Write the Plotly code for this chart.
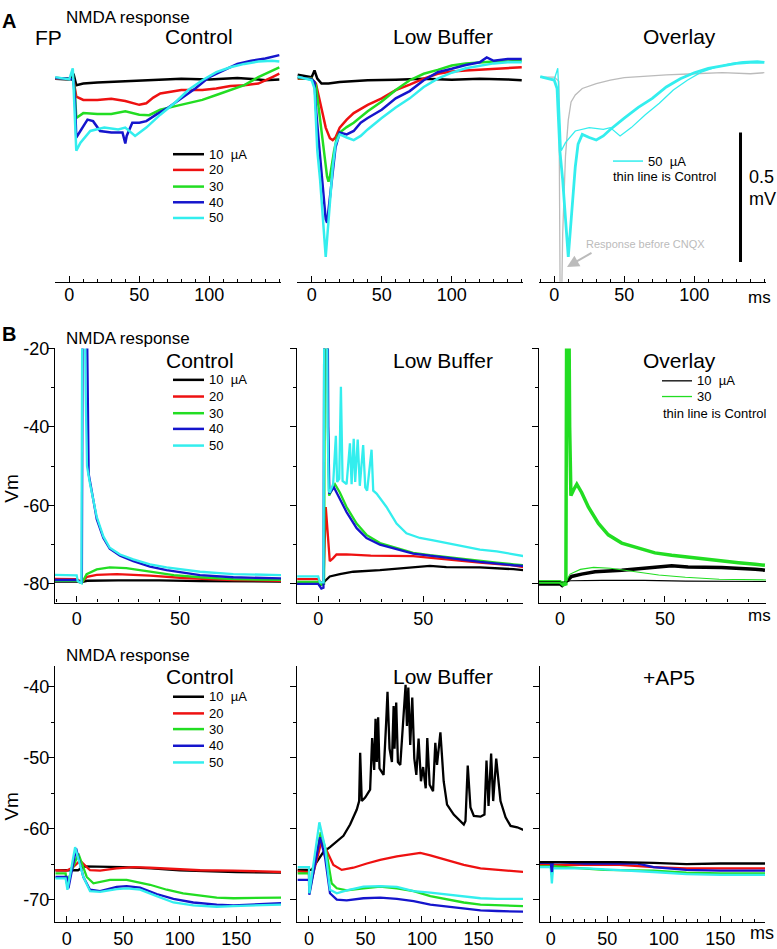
import plotly.graph_objects as go

W, H = 777, 949
FONT = "Arial, 'Liberation Sans', sans-serif"

C_BLACK = "#000000"
C_RED = "#ee1111"
C_GREEN = "#22dd22"
C_BLUE = "#1515cc"
C_CYAN = "#33eeee"
C_GREY = "#bbbbbb"

# ---------------- Row A : field potential (mV rel. baseline) vs ms ----------------
a1_black_t = [-10, 0, 3, 5, 10, 20, 40, 60, 80, 100, 120, 135, 140, 150]
a1_black_v = [0, -0.003, 0.019, -0.025, -0.019, -0.015, -0.010, -0.006, 0, -0.003, 0.003, -0.003, -0.006, -0.003]
a1_red_t = [-10, 0, 3, 4, 5, 10, 20, 30, 40, 50, 55, 60, 65, 80, 95, 105, 115, 125, 135, 145, 150]
a1_red_v = [0, 0, -0.005, -0.038, -0.069, -0.082, -0.082, -0.078, -0.086, -0.101, -0.095, -0.073, -0.057,
            -0.044, -0.044, -0.038, -0.028, -0.025, -0.019, 0.006, 0.019]
a1_green_t = [-10, 0, 3, 4, 5, 7, 10, 20, 30, 40, 50, 57, 65, 75, 85, 95, 105, 115, 125, 135, 145, 150]
a1_green_v = [0.003, 0, -0.005, -0.051, -0.152, -0.145, -0.133, -0.136, -0.136, -0.126, -0.139, -0.141, -0.120,
              -0.107, -0.095, -0.082, -0.063, -0.044, -0.025, 0.006, 0.032, 0.044]
a1_blue_t = [-10, 0, 3, 4, 5, 8, 13, 17, 22, 30, 38, 40, 41, 45, 50, 55, 62, 70, 80, 90, 100, 110, 120, 130, 140, 150]
a1_blue_v = [0.003, 0, -0.005, -0.076, -0.227, -0.202, -0.158, -0.164, -0.202, -0.208, -0.208, -0.250, -0.221,
             -0.170, -0.170, -0.164, -0.139, -0.114, -0.076, -0.038, 0.006, 0.032, 0.057, 0.069, 0.078, 0.091]
a1_cyan_t = [-10, 0, 2.5, 3.5, 5, 8, 15, 25, 35, 40, 47, 55, 65, 75, 85, 95, 105, 115, 125, 135, 145, 150]
a1_cyan_v = [0.006, -0.003, 0.04, -0.114, -0.278, -0.247, -0.202, -0.189, -0.196, -0.189, -0.221, -0.189, -0.139,
             -0.095, -0.044, -0.006, 0.025, 0.044, 0.057, 0.066, 0.069, 0.066]

a2_black_t = [-10, 0, 2, 4, 7, 12, 20, 40, 60, 80, 100, 120, 140, 150]
a2_black_v = [0.015, 0.006, 0.032, 0, -0.019, -0.019, -0.013, -0.006, -0.004, 0, -0.004, 0, -0.003, -0.006]
a2_red_t = [-10, 0, 3, 5, 8, 10, 13, 15, 17, 20, 25, 30, 40, 50, 60, 70, 80, 90, 100, 110, 120, 130, 140, 150]
a2_red_v = [0, 0, -0.019, -0.063, -0.139, -0.189, -0.230, -0.237, -0.227, -0.189, -0.158, -0.133, -0.101, -0.076,
            -0.044, -0.023, 0, 0.019, 0.028, 0.032, 0.035, 0.038, 0.040, 0.044]
a2_green_t = [-10, 0, 3, 5, 8, 11, 12, 13, 16, 18, 20, 25, 30, 40, 50, 60, 70, 80, 90, 100, 110, 120, 130, 140, 150]
a2_green_v = [0.003, 0, -0.025, -0.114, -0.265, -0.379, -0.398, -0.379, -0.278, -0.227, -0.208, -0.187, -0.170,
              -0.126, -0.088, -0.044, -0.006, 0.019, 0.034, 0.051, 0.059, 0.063, 0.066, 0.066, 0.069]
a2_blue_t = [-10, 0, 2, 3, 5, 7, 9, 10, 11, 12, 14, 17, 20, 25, 30, 35, 40, 50, 60, 70, 80, 90, 100, 110, 120, 125,
             130, 140, 150]
a2_blue_v = [0.006, -0.003, -0.013, -0.114, -0.240, -0.366, -0.492, -0.543, -0.556, -0.505, -0.391, -0.265, -0.208,
             -0.215, -0.202, -0.170, -0.152, -0.120, -0.076, -0.048, -0.006, 0.025, 0.038, 0.053, 0.063, 0.082,
             0.069, 0.076, 0.076]
a2_cyan_t = [-10, 0, 2, 3, 4, 6, 8, 10, 11, 13, 15, 17, 20, 25, 30, 35, 40, 50, 60, 70, 80, 90, 100, 110, 120, 130,
             140, 150]
a2_cyan_v = [0.008, -0.006, -0.038, -0.177, -0.278, -0.391, -0.555, -0.688, -0.619, -0.467, -0.341, -0.253, -0.215,
             -0.227, -0.237, -0.221, -0.196, -0.152, -0.111, -0.076, -0.032, 0, 0.023, 0.040, 0.051, 0.059, 0.063,
             0.063]

a3_grey_t = [-10, 0, 3.3, 4.3, 5.0, 6, 7, 8, 10, 12, 15, 20, 30, 40, 50, 60, 80, 100, 120, 140, 150]
a3_grey_v = [0.006, 0.006, -0.01, -0.95, -0.95, -0.60, -0.45, -0.30, -0.16, -0.09, -0.063, -0.038, -0.019, -0.006,
             0.004, 0.008, 0.015, 0.019, 0.023, 0.019, 0.023]

A_SCALE_MV = 0.5          # scale bar height (mV)
A_SCALE_X = 133           # ms
A_SCALE_TOP = -0.208      # mV

# ---------------- Row B1 : Vm (mV) vs ms ----------------
b1c_black_t = [-10.5, 0, 2, 5, 20, 40, 60, 80, 99]
b1c_black_v = [-79.4, -79.4, -79.6, -79.2, -79.1, -79.1, -79.3, -79.4, -79.4]
b1c_red_t = [-10.5, 0, 2.5, 5, 9.7, 19.4, 35.5, 51.6, 75.8, 99]
b1c_red_v = [-78.7, -78.8, -79.6, -78.2, -77.7, -77.5, -77.9, -78.5, -79.0, -79.2]
b1c_green_t = [-10.5, 0, 2.5, 4.8, 9.7, 16, 24, 35.5, 47, 59.7, 75.8, 99]
b1c_green_v = [-79.2, -79.2, -79.8, -77.5, -76.3, -75.8, -76.0, -76.9, -77.75, -78.3, -78.8, -79.0]
b1c_blue_t = [-10.5, 0, 2.5, 3.0, 4.5, 5.2, 5.8, 7, 9.7, 12.9, 16, 21, 27.4, 35.5, 43.5, 59.7, 75.8, 99]
b1c_blue_v = [-79.0, -79.0, -79.8, 10, 10, -30, -52, -55.5, -63.5, -68.3, -71.0, -72.8, -74.2, -75.6, -76.5,
              -77.75, -78.3, -78.6]
b1c_cyan_t = [-10.5, 0, 0.5, 2.3, 2.8, 3.6, 4.3, 5.0, 5.8, 6.5, 9.7, 12.9, 16, 21, 27.4, 35.5, 43.5, 59.7, 75.8, 99]
b1c_cyan_v = [-77.7, -77.8, -79.3, -79.8, 10, 10, -30, -50, -52.5, -54.6, -62.9, -67.9, -70.8, -72.5, -73.75,
              -75.0, -75.8, -76.9, -77.5, -77.75]

b1l_black_t = [-10, 0, 1, 3.2, 5.5, 10.3, 16.7, 29.4, 45.2, 53.2, 61, 77, 93, 97.6]
b1l_black_v = [-80.0, -80.0, -80.4, -79.2, -78.1, -77.5, -76.9, -76.5, -75.8, -75.4, -75.7, -75.8, -76.25, -76.5]
b1l_red_t = [-10, 0, 1, 2.5, 3.6, 4.5, 5.5, 7, 8.7, 13.5, 25, 45.2, 61, 77, 93, 97.6]
b1l_red_v = [-78.8, -78.8, -79.5, -79.8, -60.4, -68.0, -74.2, -73.5, -72.5, -72.5, -72.8, -72.9, -73.75, -74.6,
             -75.25, -75.7]
b1l_green_t = [-10, 0, 1.5, 2.8, 3.3, 4.0, 4.6, 5.2, 6.5, 8, 10.3, 13.5, 18.3, 23, 29.4, 37.3, 45.2, 53.2, 61, 69,
               77, 85, 93, 97.6]
b1l_green_v = [-79.5, -79.5, -80.2, -80.0, 10, 10, -40, -57.5, -56.0, -54.6, -56.7, -60.4, -64.6, -67.5, -69.6,
               -70.8, -72.1, -72.7, -73.2, -73.75, -74.2, -74.6, -75.0, -75.25]
b1l_blue_t = [-10, 0, 1.5, 2.5, 3.0, 4.3, 4.8, 5.3, 7.5, 13.5, 18.3, 23, 29.4, 37.3, 45.2, 61, 77, 93, 97.6]
b1l_blue_v = [-80.0, -80.0, -81.2, -81.0, 10, 10, -40, -57.0, -55.4, -61.7, -65.8, -68.3, -70.0, -71.1, -72.3,
              -73.3, -74.4, -75.25, -75.4]
b1l_cyan_t = [-10, 0, 0.8, 2.5, 3.0, 4.0, 4.5, 5.0, 5.5, 7.1, 8.4, 9, 10, 10.8, 11.6, 13.5, 15.1, 15.9, 16.9, 17.6,
              18.8, 19.8, 21.4, 22.4, 23.3, 25.4, 26.2, 27.8, 32.5, 37.3, 42, 48.4, 54.8, 61, 69, 77, 85, 92.9, 97.6]
b1l_cyan_v = [-78.1, -78.1, -79.6, -79.6, 10, 10, -40, -56.25, -56.7, -54.6, -42.25, -54.0, -53.25, -29.75, -53.75,
              -54.6, -44.2, -54.6, -43.0, -54.0, -43.2, -55.0, -44.6, -55.4, -56.25, -45.8, -56.25, -57.0, -60.4,
              -64.6, -67.1, -68.3, -68.9, -69.6, -70.4, -71.25, -71.7, -72.5, -72.9]

# ---------------- Row B2 : Vm (mV) vs ms ----------------
b2c_black_t = [-10, 0, 10, 15, 40, 50, 75, 100, 150, 190]
b2c_black_v = [-65.85, -65.85, -65.85, -65.3, -65.3, -65.4, -65.6, -65.85, -66.1, -66.2]
b2c_red_t = [-10, 0, 5, 11.8, 20.6, 29.5, 44, 59, 73.7, 88.5, 103, 118, 147.5, 190]
b2c_red_v = [-65.85, -65.9, -65.5, -64.5, -65.85, -65.9, -65.6, -65.4, -65.5, -65.6, -65.7, -65.85, -65.9, -66.1]
b2c_green_t = [-10, -1, 0, 10.3, 17.7, 23.6, 38.3, 53, 73.7, 88.5, 103, 118, 132.7, 147.5, 171, 190]
b2c_green_v = [-66.3, -66.3, -67.7, -63.5, -66.8, -67.7, -67.2, -67.2, -67.9, -68.6, -69.1, -69.45, -69.7, -69.8,
               -69.8, -69.7]
b2c_blue_t = [-10, 0, 1.5, 8.3, 14.7, 20.6, 29.5, 44.2, 53, 64.9, 79.6, 94.4, 112, 132.7, 147.5, 171, 190]
b2c_blue_v = [-66.8, -66.8, -68.4, -62.8, -66.8, -68.6, -68.8, -68.2, -68.1, -68.3, -69.2, -69.9, -70.4, -70.7,
              -70.8, -70.6, -70.5]
b2c_cyan_t = [-10, -1, 0.6, 7.4, 14.7, 20.6, 29.5, 44.2, 53, 64.9, 79.6, 94.4, 112, 132.7, 147.5, 171, 190]
b2c_cyan_v = [-67.0, -67.0, -68.6, -62.6, -66.8, -68.8, -68.9, -68.5, -68.4, -68.6, -69.5, -70.4, -70.8, -71.0,
              -70.9, -70.8, -70.7]

b2l_black_t = [-10, 2.4, 6.8, 12.7, 18.6, 24.6, 30.5, 36.4, 42.3, 44.4, 45.3, 46.7, 49.7, 54.1, 55.9, 57.7, 58.9,
               60.0, 61.2, 62.4, 66.0, 68.3, 69.5, 71.3, 73.4, 74.9, 75.7, 77.2, 78.7, 80.8, 83.7, 85.5, 86.7, 87.9,
               89.6, 91.4, 93.2, 95.0, 97.0, 99.1, 101, 103.3, 104.7, 106.8, 109.8, 111.8, 113.3, 116.3, 119.2,
               122.2, 128.1, 134, 137, 138.5, 140.5, 142.9, 145.9, 151.8, 155.3, 157.1, 158.9, 161.2, 163, 165.7,
               169.5, 174, 178.4, 184.3, 190]
b2l_black_v = [-65.8, -65.8, -64.7, -63.3, -62.6, -61.8, -61.0, -59.4, -57.3, -56.1, -49.3, -56.1, -55.6, -54.5,
               -47.2, -51.7, -44.5, -50.6, -44.3, -51.5, -52.4, -45.0, -40.7, -48.7, -50.6, -42.7, -48.7, -42.2,
               -50.6, -51.0, -44.1, -39.7, -45.5, -40.1, -48.2, -41.5, -50.1, -52.4, -47.3, -53.3, -51.3, -54.3,
               -47.2, -53.8, -54.7, -47.9, -51.0, -46.4, -53.3, -56.6, -58.0, -58.9, -59.4, -58.9, -51.1, -57.0,
               -58.2, -58.3, -58.0, -50.4, -56.8, -49.4, -56.1, -50.1, -56.1, -58.4, -59.6, -59.8, -60.2]
b2l_red_t = [-10, 0, 0.3, 11.2, 15.7, 21.6, 29, 39.3, 51.2, 63, 77.8, 92.6, 98.5, 107.4, 122.2, 137, 151.8, 166.6, 190]
b2l_red_v = [-66.0, -66.1, -68.5, -61.7, -63.1, -65.1, -65.8, -65.5, -64.9, -64.4, -63.9, -63.6, -63.4, -63.75,
             -64.4, -65.1, -65.6, -65.8, -66.1]
b2l_green_t = [-10, 0, 0.3, 10.4, 15.7, 20.1, 24.6, 33.4, 48.2, 63, 77.8, 92.6, 107.4, 122.2, 137, 151.8, 166.6, 190]
b2l_green_v = [-66.3, -66.3, -69.1, -60.5, -63.5, -67.7, -68.4, -68.7, -68.4, -68.15, -68.4, -68.8, -69.5, -70.0,
               -70.4, -70.7, -70.8, -70.9]
b2l_blue_t = [-10, 0, 0.3, 9.8, 14.2, 18.6, 24.6, 33.4, 48.2, 63, 77.8, 92.6, 107.4, 122.2, 137, 151.8, 166.6, 190]
b2l_blue_v = [-67.2, -67.2, -69.3, -61.2, -64.0, -69.1, -70.0, -70.1, -69.8, -69.7, -69.9, -70.2, -70.7, -71.0,
              -71.3, -71.5, -71.6, -71.7]
b2l_cyan_t = [-10, 0, 0.3, 9.2, 14.2, 18.6, 24.6, 33.4, 48.2, 63, 77.8, 92.6, 107.4, 122.2, 137, 151.8, 166.6, 190]
b2l_cyan_v = [-65.4, -65.4, -69.1, -59.1, -62.6, -68.6, -69.1, -68.7, -68.15, -68.1, -68.2, -68.8, -69.0, -69.3,
              -69.5, -69.8, -69.9, -69.9]

b2a_black_t = [-10, 0, 30, 61, 91, 120, 150, 190]
b2a_black_v = [-64.7, -64.7, -64.6, -64.7, -64.8, -65.0, -64.9, -64.9]
b2a_red_t = [-10, 0, 61, 91, 120, 150, 190]
b2a_red_v = [-65.1, -65.1, -65.1, -65.4, -65.6, -65.6, -65.6]
b2a_green_t = [-10, 0, 1, 2, 47, 91, 120, 150, 190]
b2a_green_v = [-65.3, -65.3, -66.5, -65.3, -65.8, -65.9, -66.2, -66.3, -66.3]
b2a_blue_t = [-10, 0, 1, 1.8, 4, 30, 76, 91, 120, 150, 190]
b2a_blue_v = [-64.8, -64.8, -66.1, -64.8, -64.7, -64.9, -64.9, -65.4, -65.8, -65.9, -65.9]
b2a_cyan_t = [-10, 0, 1, 2, 32, 61, 91, 120, 150, 190]
b2a_cyan_v = [-65.4, -65.4, -67.7, -65.6, -65.6, -65.8, -66.1, -66.4, -66.5, -66.5]

# tick labels
A_XTICKS = [0, 50, 100]
B1_XTICKS = [0, 50]
B2_XTICKS = [0, 50, 100, 150]
B1_YTICKS = [-80, -60, -40, -20]
B2_YTICKS = [-70, -60, -50, -40]
LEGEND_LABELS = ["10\u00a0\u00a0µA", "20", "30", "40", "50"]
LEGEND_COLORS = [C_BLACK, C_RED, C_GREEN, C_BLUE, C_CYAN]

# ---------------- layout geometry (pixels) ----------------
X_DOMS = {1: (55, 281), 2: (297, 523), 3: (539, 766),
          4: (55, 281), 5: (297, 523), 6: (539, 766),
          7: (55, 281), 8: (297, 523), 9: (540, 765)}
Y_DOMS = {1: (40, 277), 4: (345, 604), 7: (669, 930)}
X_RANGES = {1: [-10.2, 151.2], 2: [-10.5, 150.9], 3: [-10.9, 151.2],
            4: [-10.5, 98.9], 5: [-10.1, 97.5], 6: [-10.0, 98.1],
            7: [-10.4, 189.6], 8: [-10.6, 189.4], 9: [-9.5, 189.6]}
A_YRANGE = [-0.784, 0.1136]
B1_YRANGE = [-84.75, -20]
B2_YRANGE = [-73.2, -37.1]

fig = go.Figure()


def axname(i):
    return "" if i == 1 else str(i)


def add(i, t, v, color, width):
    fig.add_trace(go.Scatter(x=t, y=v, mode="lines", line=dict(color=color, width=width),
                             xaxis="x" + axname(i), yaxis="y" + axname(i),
                             showlegend=False, hoverinfo="skip"))


LW_A = 2.5
LW_B = 2.3
# Row A
for t, v, c in [(a1_black_t, a1_black_v, C_BLACK), (a1_red_t, a1_red_v, C_RED), (a1_green_t, a1_green_v, C_GREEN),
                (a1_blue_t, a1_blue_v, C_BLUE), (a1_cyan_t, a1_cyan_v, C_CYAN)]:
    add(1, t, v, c, LW_A)
for t, v, c in [(a2_black_t, a2_black_v, C_BLACK), (a2_red_t, a2_red_v, C_RED), (a2_green_t, a2_green_v, C_GREEN),
                (a2_blue_t, a2_blue_v, C_BLUE), (a2_cyan_t, a2_cyan_v, C_CYAN)]:
    add(2, t, v, c, LW_A)
add(3, a3_grey_t, a3_grey_v, C_GREY, 1.3)
add(3, a1_cyan_t, a1_cyan_v, C_CYAN, 1.3)
add(3, a2_cyan_t, a2_cyan_v, C_CYAN, 2.8)
# Row B1
for t, v, c in [(b1c_black_t, b1c_black_v, C_BLACK), (b1c_red_t, b1c_red_v, C_RED),
                (b1c_green_t, b1c_green_v, C_GREEN), (b1c_blue_t, b1c_blue_v, C_BLUE),
                (b1c_cyan_t, b1c_cyan_v, C_CYAN)]:
    add(4, t, v, c, LW_B)
for t, v, c in [(b1l_black_t, b1l_black_v, C_BLACK), (b1l_red_t, b1l_red_v, C_RED),
                (b1l_green_t, b1l_green_v, C_GREEN), (b1l_blue_t, b1l_blue_v, C_BLUE),
                (b1l_cyan_t, b1l_cyan_v, C_CYAN)]:
    add(5, t, v, c, LW_B)
add(6, b1l_black_t, b1l_black_v, C_BLACK, 3.5)
add(6, b1l_green_t, b1l_green_v, C_GREEN, 3.5)
add(6, b1c_black_t, b1c_black_v, C_BLACK, 1.1)
add(6, b1c_green_t, b1c_green_v, C_GREEN, 1.1)
# Row B2
for t, v, c in [(b2c_black_t, b2c_black_v, C_BLACK), (b2c_red_t, b2c_red_v, C_RED),
                (b2c_green_t, b2c_green_v, C_GREEN), (b2c_blue_t, b2c_blue_v, C_BLUE),
                (b2c_cyan_t, b2c_cyan_v, C_CYAN)]:
    add(7, t, v, c, LW_B)
for t, v, c in [(b2l_black_t, b2l_black_v, C_BLACK), (b2l_red_t, b2l_red_v, C_RED),
                (b2l_green_t, b2l_green_v, C_GREEN), (b2l_blue_t, b2l_blue_v, C_BLUE),
                (b2l_cyan_t, b2l_cyan_v, C_CYAN)]:
    add(8, t, v, c, LW_B)
for t, v, c in [(b2a_red_t, b2a_red_v, C_RED), (b2a_green_t, b2a_green_v, C_GREEN),
                (b2a_cyan_t, b2a_cyan_v, C_CYAN), (b2a_blue_t, b2a_blue_v, C_BLUE),
                (b2a_black_t, b2a_black_v, C_BLACK)]:
    add(9, t, v, c, LW_B)

TICKFONT = dict(family=FONT, size=18, color="black")
layout = dict(width=W, height=H, margin=dict(l=0, r=0, t=0, b=0),
              paper_bgcolor="white", plot_bgcolor="white", showlegend=False,
              font=dict(family=FONT, color="black"))

for i in range(1, 10):
    row_first = 1 if i <= 3 else (4 if i <= 6 else 7)
    xd = X_DOMS[i]
    yd = Y_DOMS[row_first]
    xt = A_XTICKS if i <= 3 else (B1_XTICKS if i <= 6 else B2_XTICKS)
    layout["xaxis" + axname(i)] = dict(
        domain=[xd[0] / W, xd[1] / W], range=X_RANGES[i], anchor="y" + axname(i),
        showline=True, linecolor="black", linewidth=1.2, mirror=False,
        ticks="inside", ticklen=6, tickwidth=1.2, tickcolor="black",
        tickmode="array", tickvals=xt, ticktext=[str(v) for v in xt], tickfont=TICKFONT,
        minor=dict(dtick=10, tick0=0, ticks="inside", ticklen=3, tickwidth=1, tickcolor="black"),
        showgrid=False, zeroline=False, fixedrange=True,
        ticklabelstandoff=-3 if i <= 3 else 0)
    ydom = [1 - yd[1] / H, 1 - yd[0] / H]
    if i <= 3:
        layout["yaxis" + axname(i)] = dict(domain=ydom, range=A_YRANGE, anchor="x" + axname(i),
                                           visible=False, fixedrange=True)
    else:
        yt = B1_YTICKS if i <= 6 else B2_YTICKS
        layout["yaxis" + axname(i)] = dict(
            domain=ydom, range=B1_YRANGE if i <= 6 else B2_YRANGE, anchor="x" + axname(i),
            showline=True, linecolor="black", linewidth=1.2,
            ticks="outside", ticklen=6, tickwidth=1.2, tickcolor="black",
            tickmode="array", tickvals=yt, ticktext=[str(v) for v in yt], tickfont=TICKFONT,
            showticklabels=(i in (4, 7)), ticklabelstandoff=-5,
            minor=dict(dtick=10 if i <= 6 else 5, tick0=0, ticks="outside", ticklen=3, tickwidth=1,
                       tickcolor="black"),
            showgrid=False, zeroline=False, fixedrange=True)

annotations = []
shapes = []


def ann(text, x, y, size, xanchor="center", bold=False, color="black", angle=0):
    annotations.append(dict(text=("<b>%s</b>" % text) if bold else text, x=x / W, y=1 - y / H,
                            xref="paper", yref="paper", xanchor=xanchor, yanchor="middle",
                            showarrow=False, textangle=angle,
                            font=dict(family=FONT, size=size, color=color)))


def legend(x0, x1, xt, ys, labels, colors, width, size=13):
    for y, lab, col in zip(ys, labels, colors):
        shapes.append(dict(type="line", xref="paper", yref="paper", x0=x0 / W, x1=x1 / W,
                           y0=1 - y / H, y1=1 - y / H, line=dict(color=col, width=width)))
        ann(lab, xt, y, size, xanchor="left")


TITLE = 21
# Row A
ann("A", 9, 11, 20, bold=True)
ann("NMDA response", 128, 8, 17)
ann("FP", 48, 28, TITLE)
ann("Control", 199, 27, TITLE)
ann("Low Buffer", 443, 27, TITLE)
ann("Overlay", 679, 27, TITLE)
ann("ms", 746, 293, 17, xanchor="left")
legend(173, 204, 207, [147, 163, 180, 196, 212], LEGEND_LABELS, LEGEND_COLORS, 2.5)
legend(613, 643, 646, [154], ["50\u00a0\u00a0µA"], [C_CYAN], 1.5)
ann("thin line is Control", 611, 170, 13, xanchor="left")
ann("0.5", 747, 170, 18, xanchor="left")
ann("mV", 747, 193, 18, xanchor="left")
ann("Response before CNQX", 584, 239, 11, xanchor="left", color=C_GREY)
annotations.append(dict(x=567 / W, y=1 - 262 / H, ax=26, ay=-15, xref="paper", yref="paper",
                        axref="pixel", ayref="pixel", text="", showarrow=True, arrowhead=2, arrowsize=1.2,
                        arrowwidth=2, arrowcolor=C_GREY))
shapes.append(dict(type="line", xref="x3", yref="y3", x0=A_SCALE_X, x1=A_SCALE_X,
                   y0=A_SCALE_TOP, y1=A_SCALE_TOP - A_SCALE_MV, line=dict(color="black", width=3)))

# Row B1
ann("B", 9, 330, 20, bold=True)
ann("NMDA response", 128, 335, 17)
ann("Control", 200, 357, TITLE)
ann("Low Buffer", 443, 357, TITLE)
ann("Overlay", 679, 357, TITLE)
ann("ms", 746, 617, 17, xanchor="left")
ann("Vm", 12, 488, 19, angle=-90)
legend(173, 204, 207, [377, 394, 411, 427, 444], LEGEND_LABELS, LEGEND_COLORS, 2.5)
legend(662, 692, 695, [378, 394], [LEGEND_LABELS[0], LEGEND_LABELS[2]], [C_BLACK, C_GREEN], 1.3)
ann("thin line is Control", 661, 411, 13, xanchor="left")

# Row B2
ann("NMDA response", 128, 658, 17)
ann("Control", 200, 679, TITLE)
ann("Low Buffer", 443, 679, TITLE)
ann("+AP5", 669, 680, TITLE)
ann("ms", 748, 941, 18, xanchor="left")
ann("Vm", 12, 812, 19, angle=-90)
legend(173, 204, 207, [700, 717, 733, 750, 767], LEGEND_LABELS, LEGEND_COLORS, 2.5)

layout["annotations"] = annotations
layout["shapes"] = shapes
fig.update_layout(**layout)
fig.write_html("out.html", config={"displayModeBar": False},
               post_script="document.body.style.margin='0';document.body.style.overflow='hidden';")
